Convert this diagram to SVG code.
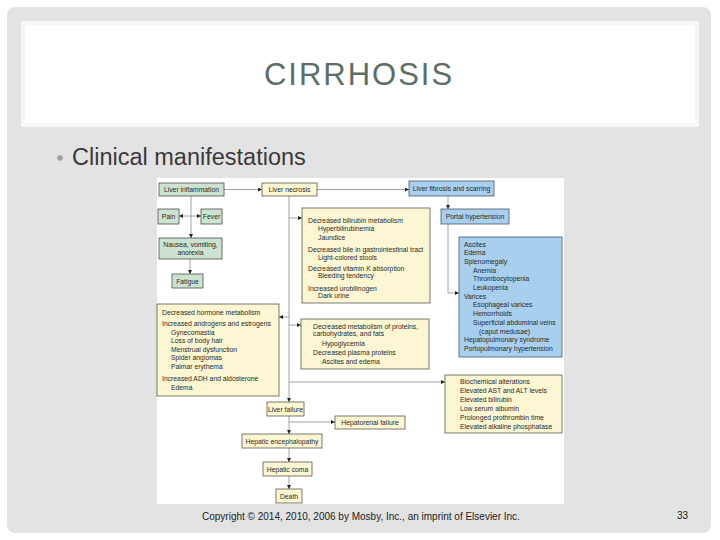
<svg xmlns="http://www.w3.org/2000/svg" width="720" height="540" viewBox="0 0 720 540">
<defs>
<marker id="ah" viewBox="0 0 6 6" refX="6" refY="3" markerWidth="4" markerHeight="4" markerUnits="userSpaceOnUse" orient="auto">
<path d="M0,0 L6,3 L0,6 z" fill="#222"/>
</marker>
<style>
.g{fill:#cde3d2;stroke:#4d4d4d;stroke-width:0.8}
.y{fill:#fcf6d3;stroke:#5a5a50;stroke-width:0.8}
.b{fill:#a8cfee;stroke:#4a5866;stroke-width:0.8}
.t{font-family:"Liberation Sans",Arial,sans-serif;font-size:6.8px;fill:#2a2a2a}
.c{text-anchor:middle}
.ln{fill:none;stroke:#8a8a8a;stroke-width:0.8}
.ar{marker-end:url(#ah)}
</style>
</defs>
<rect x="0" y="0" width="720" height="540" fill="#ffffff"/>
<rect x="7" y="7" width="704" height="526" rx="8" fill="#e3e3e3"/>
<rect x="21" y="21" width="678" height="106" fill="#f6f6f6"/>
<rect x="25" y="25" width="670" height="98" fill="#ffffff"/>
<text x="359" y="85" text-anchor="middle" font-family="'Liberation Sans',Arial,sans-serif" font-size="31" letter-spacing="2" fill="#5d6e68">CIRRHOSIS</text>
<circle cx="60" cy="158" r="2.8" fill="#9aa39f"/>
<text x="72" y="165" font-family="'Liberation Sans',Arial,sans-serif" font-size="23.5" fill="#3a3a3a">Clinical manifestations</text>
<text x="202" y="520" font-family="'Liberation Sans',Arial,sans-serif" font-size="10" fill="#222">Copyright © 2014, 2010, 2006 by Mosby, Inc., an imprint of Elsevier Inc.</text>
<text x="677" y="519" font-family="'Liberation Sans',Arial,sans-serif" font-size="10" fill="#222">33</text>
<rect x="157" y="178" width="407" height="326" fill="#ffffff"/>

<g id="connectors">
<path class="ln ar" d="M224,189.5 H262"/>
<path class="ln ar" d="M317,189.5 H409"/>
<path class="ln ar" d="M191,196 V238"/>
<path class="ln ar" d="M191,216 H179"/>
<path class="ln ar" d="M191,216 H201"/>
<path class="ln ar" d="M190,259 V274"/>
<path class="ln ar" d="M289,196 V402"/>
<path class="ln ar" d="M289,218 H302"/>
<path class="ln ar" d="M289,317 H279"/>
<path class="ln ar" d="M289,325 H301"/>
<path class="ln ar" d="M289,382 H445"/>
<path class="ln ar" d="M289,416 V434"/>
<path class="ln ar" d="M289,422 H335"/>
<path class="ln ar" d="M289,448 V462"/>
<path class="ln ar" d="M289,476 V489"/>
<path class="ln ar" d="M448,196 V209"/>
<path class="ln ar" d="M448,224 V293 H459"/>
</g>

<g id="liver-inflammation"><rect class="g" x="159" y="183" width="65" height="13"/><text class="t c" x="191.5" y="192">Liver inflammation</text></g>
<g id="pain"><rect class="g" x="158" y="209" width="21" height="15"/><text class="t c" x="168.5" y="219">Pain</text></g>
<g id="fever"><rect class="g" x="201" y="209" width="21" height="15"/><text class="t c" x="211.5" y="219">Fever</text></g>
<g id="nausea"><rect class="g" x="159" y="238" width="63" height="21"/><text class="t c" x="190.5" y="246.5">Nausea, vomiting,</text><text class="t c" x="190.5" y="254.5">anorexia</text></g>
<g id="fatigue"><rect class="g" x="172" y="274" width="31" height="14"/><text class="t c" x="187.5" y="283.5">Fatigue</text></g>

<g id="liver-necrosis"><rect class="y" x="262" y="183" width="55" height="13"/><text class="t c" x="289.5" y="192">Liver necrosis</text></g>
<g id="liver-fibrosis"><rect class="b" x="409" y="181" width="85" height="15"/><text class="t c" x="451.5" y="191">Liver fibrosis and scarring</text></g>
<g id="portal-hypertension"><rect class="b" x="441" y="209" width="68" height="15"/><text class="t c" x="475" y="219">Portal hypertension</text></g>

<g id="bilirubin"><rect class="y" x="302" y="208" width="128" height="95"/>
<text class="t" x="308" y="222.5">Decreased bilirubin metabolism</text>
<text class="t" x="318" y="231">Hyperbilirubinemia</text>
<text class="t" x="318" y="239.5">Jaundice</text>
<text class="t" x="308" y="252">Decreased bile in gastrointestinal tract</text>
<text class="t" x="318" y="259.5">Light-colored stools</text>
<text class="t" x="308" y="270.5">Decreased vitamin K absorption</text>
<text class="t" x="318" y="278">Bleeding tendency</text>
<text class="t" x="308" y="290.5">Increased urobilinogen</text>
<text class="t" x="318" y="297.5">Dark urine</text>
</g>

<g id="portal-effects"><rect class="b" x="459" y="237" width="103" height="120"/>
<text class="t" x="464" y="246.5">Ascites</text>
<text class="t" x="464" y="255.2">Edema</text>
<text class="t" x="464" y="263.9">Splenomegaly</text>
<text class="t" x="473" y="272.6">Anemia</text>
<text class="t" x="473" y="281.3">Thrombocytopenia</text>
<text class="t" x="473" y="290">Leukopenia</text>
<text class="t" x="464" y="298.7">Varices</text>
<text class="t" x="473" y="307.4">Esophageal varices</text>
<text class="t" x="473" y="316.1">Hemorrhoids</text>
<text class="t" x="473" y="324.8">Superficial abdominal veins</text>
<text class="t" x="479" y="333.5">(caput medusae)</text>
<text class="t" x="464" y="342.2">Hepatopulmonary syndrome</text>
<text class="t" x="464" y="350.9">Portopulmonary hypertension</text>
</g>

<g id="hormone"><rect class="y" x="157" y="304" width="122" height="92"/>
<text class="t" x="162" y="315">Decreased hormone metabolism</text>
<text class="t" x="162" y="326">Increased androgens and estrogens</text>
<text class="t" x="171" y="334.5">Gynecomastia</text>
<text class="t" x="171" y="343">Loss of body hair</text>
<text class="t" x="171" y="351.5">Menstrual dysfunction</text>
<text class="t" x="171" y="360">Spider angiomas</text>
<text class="t" x="171" y="368.5">Palmar erythema</text>
<text class="t" x="162" y="381">Increased ADH and aldosterone</text>
<text class="t" x="171" y="390">Edema</text>
</g>

<g id="proteins"><rect class="y" x="301" y="319" width="128" height="50"/>
<text class="t" x="313" y="329">Decreased metabolism of proteins,</text>
<text class="t" x="313" y="336">carbohydrates, and fats</text>
<text class="t" x="322" y="345.5">Hypoglycemia</text>
<text class="t" x="313" y="355">Decreased plasma proteins</text>
<text class="t" x="322" y="364">Ascites and edema</text>
</g>

<g id="biochemical"><rect class="y" x="445" y="375" width="117" height="58"/>
<text class="t" x="460" y="384">Biochemical alterations</text>
<text class="t" x="460" y="393">Elevated AST and ALT levels</text>
<text class="t" x="460" y="402">Elevated bilirubin</text>
<text class="t" x="460" y="411">Low serum albumin</text>
<text class="t" x="460" y="419.5">Prolonged prothrombin time</text>
<text class="t" x="460" y="428.5">Elevated alkaline phosphatase</text>
</g>

<g id="liver-failure"><rect class="y" x="267" y="402" width="37" height="14"/><text class="t c" x="285.5" y="411.5">Liver failure</text></g>
<g id="hepatorenal"><rect class="y" x="335" y="416" width="70" height="13"/><text class="t c" x="370" y="425">Hepatorenal failure</text></g>
<g id="encephalopathy"><rect class="y" x="242" y="434" width="80" height="14"/><text class="t c" x="282" y="443.5">Hepatic encephalopathy</text></g>
<g id="coma"><rect class="y" x="263" y="462" width="49" height="14"/><text class="t c" x="287.5" y="471.5">Hepatic coma</text></g>
<g id="death"><rect class="y" x="276" y="489" width="26" height="14"/><text class="t c" x="289" y="498.5">Death</text></g>
</svg>
